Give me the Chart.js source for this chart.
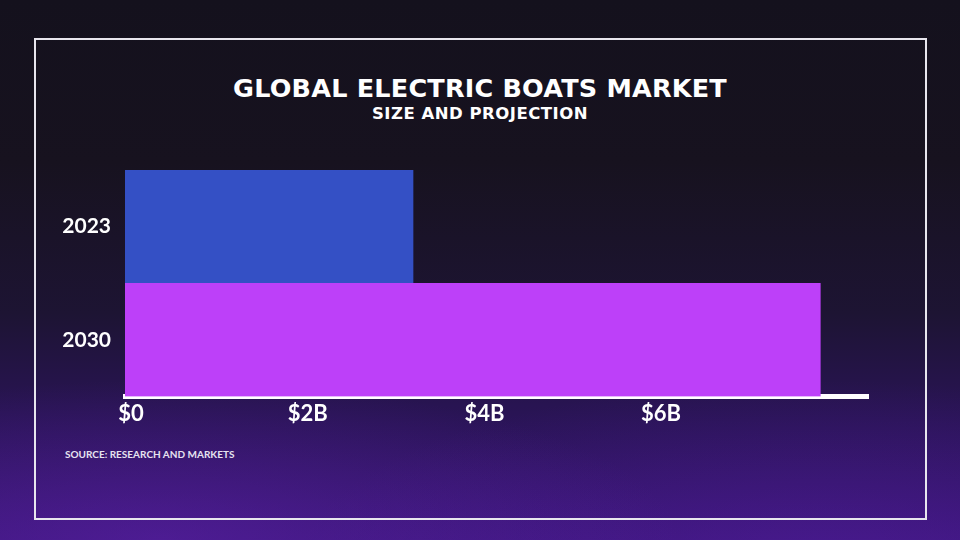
<!DOCTYPE html>
<html>
<head>
<meta charset="utf-8">
<script src="https://cdn.jsdelivr.net/npm/chart.js@4"></script>
<style>
  html, body { margin: 0; padding: 0; }
  body {
    width: 960px; height: 540px; overflow: hidden; position: relative;
    background:
      radial-gradient(ellipse 520px 160px at 160px 540px, rgba(100,35,180,0.45), rgba(100,35,180,0) 100%),
      radial-gradient(ellipse 520px 180px at 820px 560px, rgba(90,30,170,0.4), rgba(90,30,170,0) 100%),
      linear-gradient(180deg, #14111d 0%, #17121f 30%, #1d1433 58%, #2a1457 78%, #3a1678 100%);
    font-family: Lato, "Open Sans", sans-serif;
  }
  .frame {
    position: absolute; left: 34px; top: 38px; width: 889px; height: 478px;
    border: 2px solid #e8e6ee;
  }
  .title {
    position: absolute; left: 0; width: 960px; top: 73px; text-align: center;
    color: #fff; font-family: "DejaVu Sans", sans-serif; font-weight: bold; font-size: 25.5px; letter-spacing: 0.2px;
  }
  .subtitle {
    position: absolute; left: 0; width: 960px; top: 104px; text-align: center;
    color: #fff; font-family: "DejaVu Sans", sans-serif; font-weight: bold; font-size: 16.5px; letter-spacing: 0.5px;
  }
  .source {
    position: absolute; left: 65px; top: 448px;
    color: #e6e2f0; font-weight: 700; font-size: 10px;
  }
  #chart { position: absolute; left: 0; top: 0; }
</style>
</head>
<body>
<div class="frame"></div>
<div class="title">GLOBAL ELECTRIC BOATS MARKET</div>
<div class="subtitle">SIZE AND PROJECTION</div>
<div class="source">SOURCE: RESEARCH AND MARKETS</div>
<canvas id="chart" width="960" height="540"></canvas>
<script>
// market size in billions of USD
var years = ['2023', '2030'];
var marketSize = [3.26, 7.87];
var barColors = ['#3450c5', '#bd40f9'];
var tickValues = [0, 2, 4, 6];
var tickLabels = ['$0', '$2B', '$4B', '$6B'];

var ctx = document.getElementById('chart').getContext('2d');
new Chart(ctx, {
    type: 'bar',
    data: {
        labels: years,
        datasets: [{
            data: marketSize,
            backgroundColor: barColors,
            borderWidth: 0,
            barPercentage: 1,
            categoryPercentage: 1
        }]
    },
    options: {
        indexAxis: 'y',
        responsive: false,
        animation: false,
        devicePixelRatio: 1,
        layout: { padding: { left: 45, top: 170, right: 92, bottom: 108.5 } },
        plugins: { legend: { display: false }, tooltip: { enabled: false } },
        scales: {
            x: {
                min: 0,
                max: 8.41,
                z: 1,
                grid: { display: false, drawTicks: false },
                border: { display: true, color: '#ffffff', width: 5 },
                afterBuildTicks: function(scale) {
                    scale.ticks = tickValues.map(function(v) { return { value: v }; });
                },
                afterFit: function(scale) { scale.height = 35; },
                ticks: {
                    color: '#ffffff',
                    padding: 4,
                    labelOffset: 6,
                    maxRotation: 0,
                    font: { family: 'Lato', size: 22, weight: 'bold' },
                    callback: function(value) {
                        return tickLabels[tickValues.indexOf(value)];
                    }
                }
            },
            y: {
                grid: { display: false, drawTicks: false },
                border: { display: false },
                afterFit: function(scale) { scale.width = 80; },
                ticks: {
                    color: '#ffffff',
                    padding: 14,
                    font: { family: 'Lato', size: 21, weight: 'bold' }
                }
            }
        }
    }
});
</script>
</body>
</html>
